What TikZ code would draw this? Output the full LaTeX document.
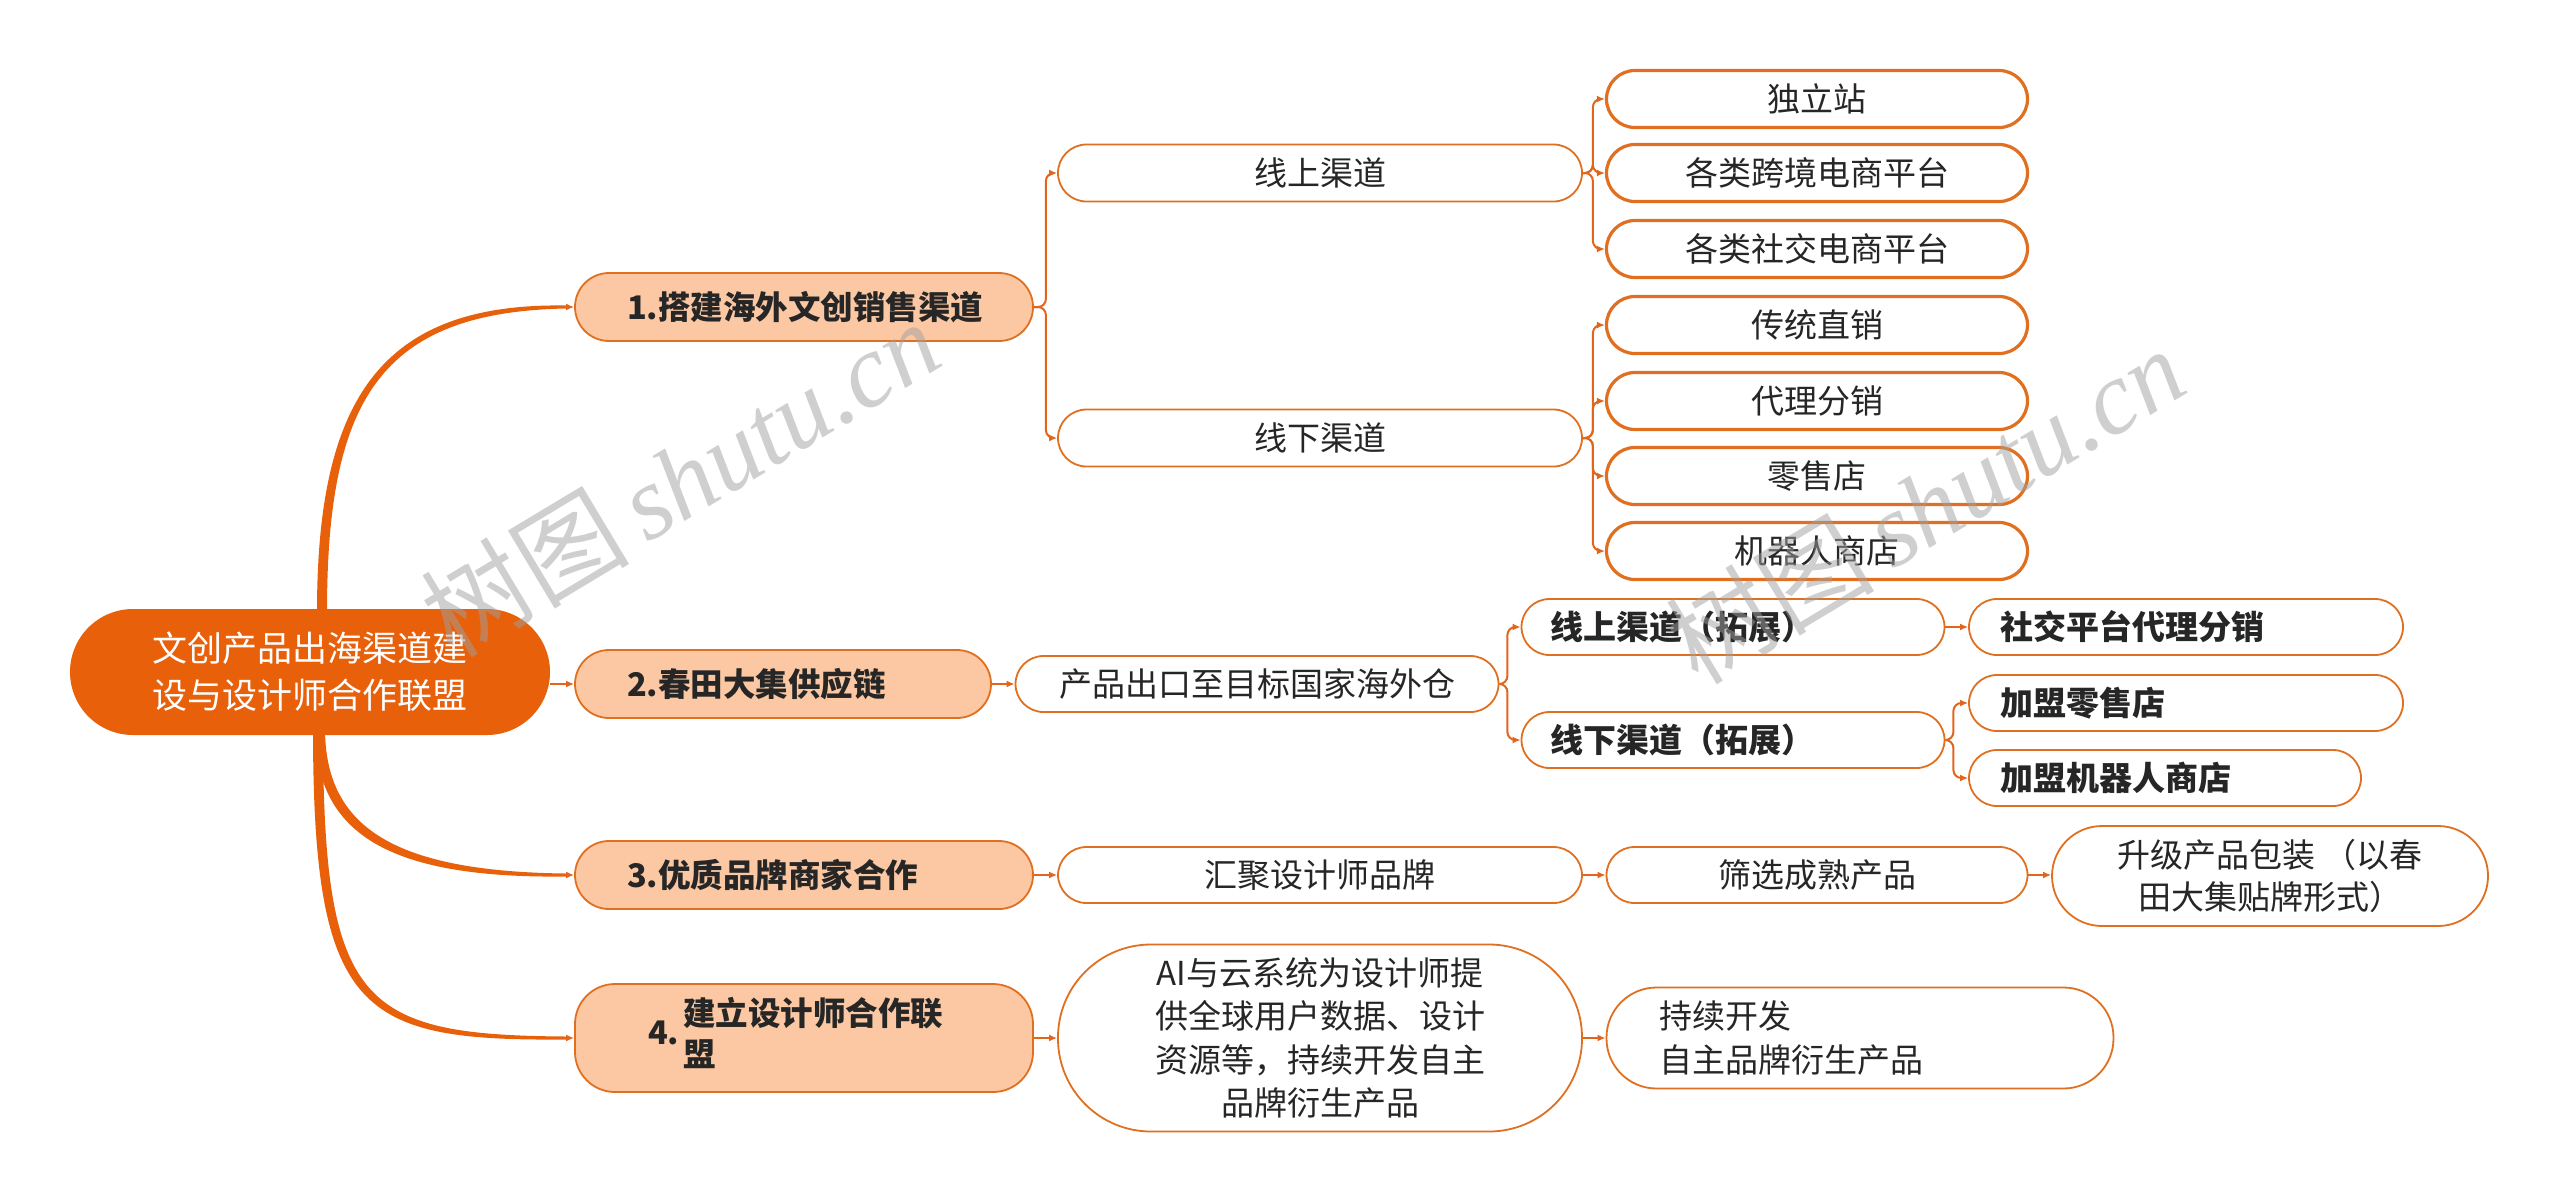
\documentclass[tikz,border=0pt]{standalone}
\usepackage{fontspec}
\usetikzlibrary{arrows.meta,calc}
\newfontfamily\cjk{Noto Sans CJK SC}
\newfontfamily\wmlat{Liberation Serif}
\definecolor{rootor}{HTML}{E9600B}
\definecolor{lineor}{HTML}{E2651C}
\definecolor{boxor}{HTML}{E07020}
\definecolor{peach}{HTML}{FCC8A3}
\definecolor{txt}{HTML}{262626}
\definecolor{wmgray}{HTML}{A0A0A0}
\tikzset{
  conn/.style={draw=lineor, line width=2pt, -{Latex[length=8pt,width=7pt]}, rounded corners=8pt},
  base/.style={draw=boxor, line width=1.8pt, text=txt, inner sep=0pt, font=\cjk\fontsize{33}{43}\selectfont},
  rootbox/.style={fill=rootor, inner sep=0pt, minimum width=480pt, minimum height=126pt, rounded corners=63pt, text=white, align=center, font=\cjk\fontsize{35}{47}\selectfont},
  branch/.style={base, fill=peach, font=\cjk\bfseries\fontsize{32.5}{41}\selectfont, minimum height=68pt, rounded corners=34pt, align=left, inner xsep=52pt},
  cbox/.style={base, fill=white, align=center},
  l3box/.style={cbox, line width=3.2pt, minimum width=421pt, minimum height=57pt, rounded corners=28.5pt},
  l2box/.style={cbox, minimum width=524pt, minimum height=57pt, rounded corners=28.5pt},
  lbox/.style={base, fill=white, font=\cjk\bfseries\fontsize{33}{43}\selectfont, minimum height=56pt, rounded corners=28pt, align=left},
  wmark/.style={rotate=31, text=wmgray, opacity=0.5, inner sep=0pt}
}
\begin{document}
\begin{tikzpicture}[x=1pt,y=-1pt]
\useasboundingbox (0,0) rectangle (2560,1203);
\fill[white] (0,0) rectangle (2560,1203);

% root and main branches
\node[rootbox] (root) at (310,672) {文创产品出海渠道建\\设与设计师合作联盟};
\node[branch, minimum width=458pt, text width=354pt] (b1) at (804,307) {1.搭建海外文创销售渠道};
\node[branch, minimum width=416pt, text width=312pt] (b2) at (783,684) {2.春田大集供应链};
\node[branch, minimum width=458pt, text width=354pt] (b3) at (804,875) {3.优质品牌商家合作};
\node[branch, minimum width=458pt, text width=312pt, inner xsep=73pt, minimum height=108pt, rounded corners=40pt] (b4) at (804,1038) {4.\hspace{4pt}\begin{tabular}[c]{@{}l@{}}建立设计师合作联\\盟\end{tabular}};

% branch 1
\node[l2box] (on) at (1320,173) {线上渠道};
\node[l2box] (off) at (1320,438) {线下渠道};
\node[l3box] (s1) at (1817,99) {独立站};
\node[l3box] (s2) at (1817,173) {各类跨境电商平台};
\node[l3box] (s3) at (1817,249) {各类社交电商平台};
\node[l3box] (s4) at (1817,325) {传统直销};
\node[l3box] (s5) at (1817,401) {代理分销};
\node[l3box] (s6) at (1817,476) {零售店};
\node[l3box] (s7) at (1817,551) {机器人商店};

% branch 2
\node[cbox, minimum width=483pt, minimum height=56pt, rounded corners=28pt] (exp) at (1257,684) {产品出口至目标国家海外仓};
\node[lbox, minimum width=423pt, text width=365pt, inner xsep=29pt] (onx) at (1733,627) {线上渠道（拓展）};
\node[lbox, minimum width=423pt, text width=365pt, inner xsep=29pt] (offx) at (1733,740) {线下渠道（拓展）};
\node[lbox, minimum width=434pt, text width=372pt, inner xsep=31pt] (soc) at (2186,627) {社交平台代理分销};
\node[lbox, minimum width=434pt, text width=372pt, inner xsep=31pt] (jm1) at (2186,703) {加盟零售店};
\node[lbox, minimum width=392pt, text width=330pt, inner xsep=31pt] (jm2) at (2165,778) {加盟机器人商店};

% branch 3
\node[l2box, minimum height=56pt] (c1) at (1320,875) {汇聚设计师品牌};
\node[cbox, minimum width=421pt, minimum height=56pt, rounded corners=28pt] (c2) at (1817,875) {筛选成熟产品};
\node[cbox, minimum width=436pt, minimum height=100pt, rounded corners=50pt, font=\cjk\fontsize{33}{42.5}\selectfont] (c3) at (2270,876) {升级产品包装 （以春\\田大集贴牌形式）};

% branch 4
\node[cbox, minimum width=524pt, minimum height=187pt, rounded corners=93pt, font=\cjk\fontsize{33}{43.5}\selectfont] (ai) at (1320,1038) {AI与云系统为设计师提\\供全球用户数据、设计\\资源等，持续开发自主\\品牌衍生产品};
\node[base, fill=white, minimum width=507pt, minimum height=101pt, rounded corners=50pt, align=left, text width=401pt, inner xsep=53pt, font=\cjk\fontsize{33}{44}\selectfont] (dev) at (1860,1038) {持续开发\\自主品牌衍生产品};

% thick tapered connectors from the root
\fill[rootor] (317,612) .. controls (317,400) and (380,302.5) .. (566,305.5) -- (566,308.5) .. controls (380,312) and (327,400) .. (327,612) -- cycle;
\fill[rootor] (315,728) .. controls (315,835) and (390,878.5) .. (566,876.5) -- (566,873.5) .. controls (390,871.5) and (325,825) .. (325,728) -- cycle;
\fill[rootor] (313,728) .. controls (313,1015) and (360,1041) .. (566,1039.5) -- (566,1036.5) .. controls (360,1035) and (323,1005) .. (323,728) -- cycle;
\coordinate (t1) at (560,307);
\coordinate (t3) at (560,875);
\coordinate (t4) at (560,1038);
\draw[conn] (t1) -- (b1.west);
\draw[conn] (t3) -- (b3.west);
\draw[conn] (t4) -- (b4.west);
\draw[conn] (root.east |- b2.west) -- (b2.west);

% branch 1 connectors
\draw[conn] (b1.east) -- ++(12,0) |- (on.west);
\draw[conn] (b1.east) -- ++(12,0) |- (off.west);
\foreach \c in {s1,s2,s3} \draw[conn] (on.east) -- ++(10,0) |- (\c.west);
\foreach \c in {s4,s5,s6,s7} \draw[conn] (off.east) -- ++(10,0) |- (\c.west);

% branch 2 connectors
\draw[conn] (b2.east) -- (exp.west);
\draw[conn] (exp.east) -- ++(8,0) |- (onx.west);
\draw[conn] (exp.east) -- ++(8,0) |- (offx.west);
\draw[conn] (onx.east) -- (soc.west);
\draw[conn] (offx.east) -- ++(8,0) |- (jm1.west);
\draw[conn] (offx.east) -- ++(8,0) |- (jm2.west);

% branch 3 connectors
\draw[conn] (b3.east) -- (c1.west);
\draw[conn] (c1.east) -- (c2.west);
\draw[conn] (c2.east) -- (c3.west |- c2.east);

% branch 4 connectors
\draw[conn] (b4.east) -- (ai.west);
\draw[conn] (ai.east) -- (dev.west);

% watermarks
\node[wmark] (wm1) at (680,478) {\cjk\fontsize{104}{104}\selectfont 树图\,\wmlat\itshape shutu.cn};
\node[wmark] (wm2) at (1925,505) {\cjk\fontsize{104}{104}\selectfont 树图\,\wmlat\itshape shutu.cn};
\end{tikzpicture}
\end{document}
